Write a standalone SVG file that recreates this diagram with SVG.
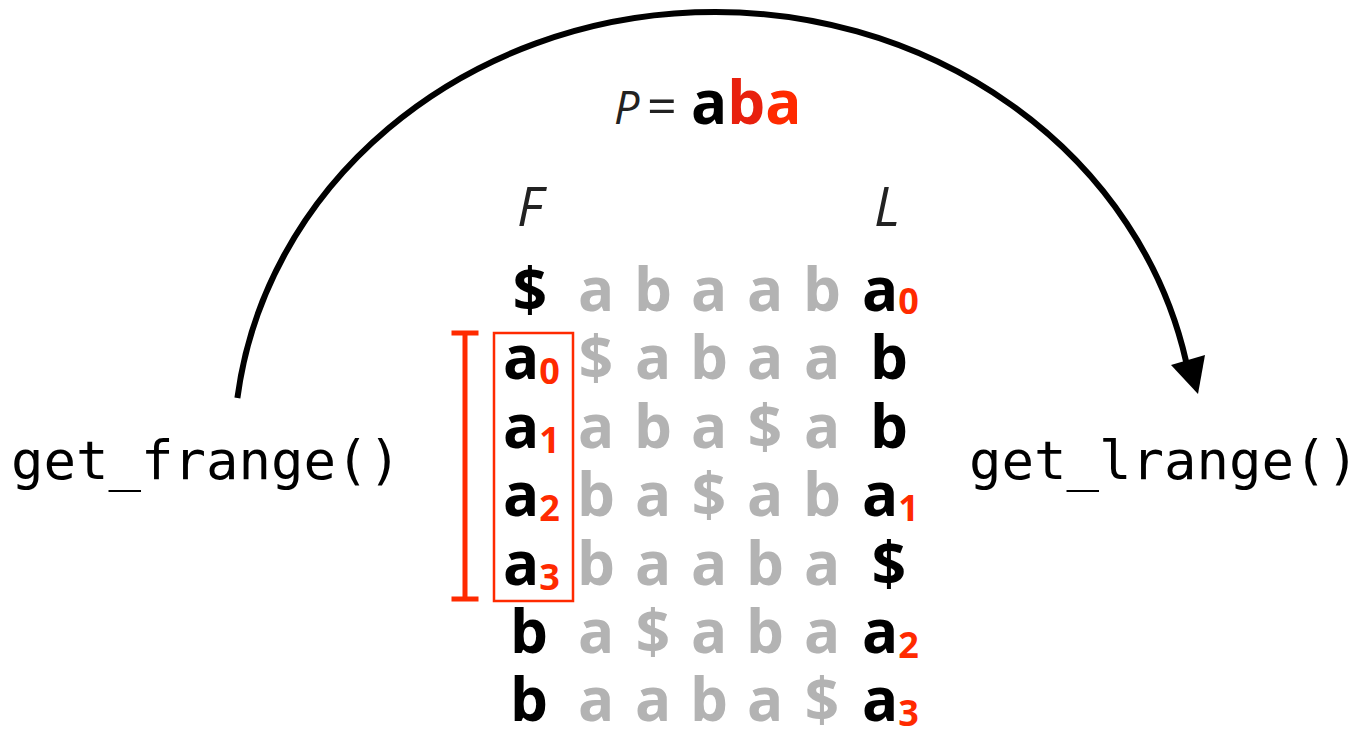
<svg xmlns="http://www.w3.org/2000/svg" width="1366" height="731" viewBox="0 0 1366 731">
<style>
.b{font-family:"Open Sans","Noto Sans",sans-serif;font-weight:700;font-size:60px}
.blk{fill:#000}
.gry{fill:#b3b3b3}
.mid{text-anchor:middle}
.sub{font-size:36px;fill:#ff2a00}
.it{font-family:"Open Sans","Noto Sans",sans-serif;font-style:italic;font-weight:400;fill:#222}
.mono{font-family:"DejaVu Sans Mono","Liberation Mono",monospace;font-size:54px;fill:#000}
.red{stroke:#ff2a00;fill:none}
</style>
<rect width="1366" height="731" fill="#fff"/>
<g id="connectors">
<path d="M237.4 398 A481 438 0 0 1 1186.2 362" fill="none" stroke="#000" stroke-width="6"/>
<polygon points="1171,365 1205,355 1198,394" fill="#000"/>
</g>
<g id="title">
<text class="it" x="614" y="124" font-size="45">P</text>
<text x="647" y="124" font-size="52" fill="#222" font-family="Open Sans, sans-serif">=</text>
<text class="b" x="691" y="124" font-size="56" fill="#000">a<tspan fill="#e8200e">b</tspan><tspan fill="#ff2a00">a</tspan></text>
</g>
<g id="col-labels">
<text class="it mid" x="530" y="226" font-size="54">F</text>
<text class="it mid" x="887" y="226" font-size="54">L</text>
</g>
<g id="frange-label"><text class="mono" x="11" y="479">get_frange()</text></g>
<g id="lrange-label"><text class="mono" x="969" y="479">get_lrange()</text></g>
<g id="range-bracket">
<path class="red" stroke-width="5" d="M465 333 V599 M451.5 333 H478.5 M451.5 599 H478.5"/>
<rect class="red" x="494" y="333" width="79" height="268" stroke-width="2.5"/>
</g>
<g id="bwt-matrix" class="b">
<g id="row0">
<text class="blk mid" x="530" y="311">$</text>
<text class="gry mid" x="596 653 709 765 822" y="311">abaab</text>
<text class="blk" x="862" y="311">a<tspan class="sub" dy="3">0</tspan></text>
</g>
<g id="row1">
<text class="blk" x="503" y="379">a<tspan class="sub" dy="5">0</tspan></text>
<text class="gry mid" x="596 653 709 765 822" y="379">$abaa</text>
<text class="blk mid" x="889" y="379">b</text>
</g>
<g id="row2">
<text class="blk" x="503" y="448">a<tspan class="sub" dy="5">1</tspan></text>
<text class="gry mid" x="596 653 709 765 822" y="448">aba$a</text>
<text class="blk mid" x="889" y="448">b</text>
</g>
<g id="row3">
<text class="blk" x="503" y="516">a<tspan class="sub" dy="5">2</tspan></text>
<text class="gry mid" x="596 653 709 765 822" y="516">ba$ab</text>
<text class="blk" x="862" y="516">a<tspan class="sub" dy="5">1</tspan></text>
</g>
<g id="row4">
<text class="blk" x="503" y="585">a<tspan class="sub" dy="5">3</tspan></text>
<text class="gry mid" x="596 653 709 765 822" y="585">baaba</text>
<text class="blk mid" x="889" y="585">$</text>
</g>
<g id="row5">
<text class="blk mid" x="529" y="653">b</text>
<text class="gry mid" x="596 653 709 765 822" y="653">a$aba</text>
<text class="blk" x="862" y="653">a<tspan class="sub" dy="5">2</tspan></text>
</g>
<g id="row6">
<text class="blk mid" x="529" y="721">b</text>
<text class="gry mid" x="596 653 709 765 822" y="721">aaba$</text>
<text class="blk" x="862" y="721">a<tspan class="sub" dy="5">3</tspan></text>
</g>
</g>
</svg>
